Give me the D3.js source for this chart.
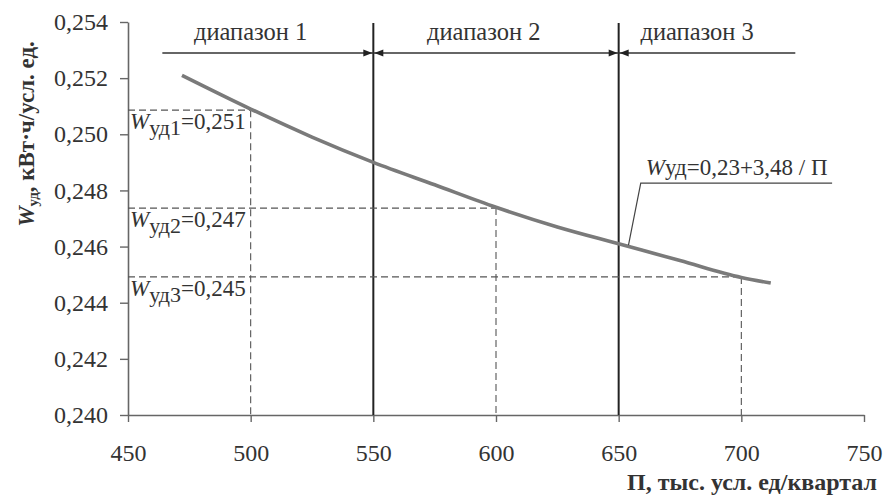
<!DOCTYPE html>
<html><head><meta charset="utf-8">
<script src="https://cdn.jsdelivr.net/npm/d3@7"></script>
<style>
html,body{margin:0;padding:0;background:#fff;}
svg{display:block;}
svg text{font-family:"Liberation Serif","Times New Roman",Tinos,serif !important;}
</style></head>
<body>
<svg id="chart" width="885" height="498"></svg>
<script>
// ---- data ----
const xTicks = [450, 500, 550, 600, 650, 700, 750];
const yTicks = [0.240, 0.242, 0.244, 0.246, 0.248, 0.250, 0.252, 0.254];
const curveP = [472, 500, 525, 550, 575, 600, 625, 650, 675, 700, 712];
const curveW = [0.2521, 0.2509, 0.2499, 0.2490, 0.2482, 0.2474, 0.2467, 0.2461, 0.2455, 0.2449, 0.2447];
const rangeNames = ["диапазон 1", "диапазон 2", "диапазон 3"];
const rangeStart = [464, 550, 650];
const rangeEnd = [550, 650, 722];
const rangeLabelP = [500, 595, 682];
const arrowAtStart = [false, true, true];
const arrowAtEnd = [true, true, false];
const boundaries = [550, 650];
const refP = [500, 600, 700];
const refW = [0.25086, 0.24737, 0.24492];
const refIdx = ["1", "2", "3"];
const refText = ["=0,251", "=0,247", "=0,245"];
const formulaText = "=0,23+3,48 / П";
const formulaPoint = [654, 0.24605];
const formulaAnchor = [659, 0.24826];
const formulaEnd = 737;
const xTitle = "П, тыс. усл. ед/квартал";
const yTitleRest = ", кВт·ч/усл. ед.";

// ---- scales ----
const svg = d3.select("#chart");
const x = d3.scaleLinear().domain([450, 750]).range([128, 864]);
const y = d3.scaleLinear().domain([0.240, 0.254]).range([415, 22]);
const txt = "#333";
const fmt = v => d3.format(".3f")(v).replace(".", ",");

// ---- axes ----
const gx = svg.append("g").attr("transform", `translate(0,${y(0.240)})`)
  .call(d3.axisBottom(x).tickValues(xTicks).tickSize(7).tickPadding(22).tickSizeOuter(0).tickFormat(d3.format("d")));
const gy = svg.append("g").attr("transform", `translate(${x(450)},0)`)
  .call(d3.axisLeft(y).tickValues(yTicks).tickSize(8).tickPadding(12).tickSizeOuter(0).tickFormat(fmt));
[gx, gy].forEach(g => {
  g.attr("font-family", null);
  g.select(".domain").attr("stroke", "#666").attr("stroke-width", 1.6);
  g.selectAll(".tick line").attr("stroke", "#666").attr("stroke-width", 1.4);
  g.selectAll(".tick text").attr("fill", txt).style("font-size", "24px");
});

// ---- boundary lines ----
svg.selectAll(".bnd").data(boundaries).enter().append("line")
  .attr("x1", d => x(d)).attr("x2", d => x(d))
  .attr("y1", y(0.254) + 1).attr("y2", y(0.240))
  .attr("stroke", "#222").attr("stroke-width", 2);

// ---- dashed reference lines ----
const ref = svg.append("g");
refP.forEach((p, i) => {
  ref.append("line").attr("x1", x(450)).attr("x2", x(p)).attr("y1", y(refW[i])).attr("y2", y(refW[i]))
    .attr("stroke", "#555").attr("stroke-width", 1.3).attr("stroke-dasharray", "7,4");
  ref.append("line").attr("x1", x(p)).attr("x2", x(p)).attr("y1", y(refW[i])).attr("y2", y(0.240))
    .attr("stroke", "#555").attr("stroke-width", 1.1).attr("stroke-dasharray", "7,4");
  const t = ref.append("text").attr("x", x(450) + 2).attr("y", y(refW[i]) + 19)
    .attr("fill", txt).style("font-size", "23px");
  t.append("tspan").text("W").style("font-style", "italic");
  t.append("tspan").text("уд" + refIdx[i]).attr("dy", 6).style("font-size", "22px");
  t.append("tspan").text(refText[i]).attr("dy", -6);
});

// ---- curve ----
const pts = curveP.map((p, i) => [p, curveW[i]]);
svg.append("path").datum(pts)
  .attr("d", d3.line().x(d => x(d[0])).y(d => y(d[1])).curve(d3.curveMonotoneX))
  .attr("fill", "none").attr("stroke", "#7a7a7a").attr("stroke-width", 3.6).attr("stroke-linecap", "butt");

// ---- range arrows ----
const ay = 53;
const rg = svg.append("g");
rangeNames.forEach((n, i) => {
  const x0 = x(rangeStart[i]), x1 = x(rangeEnd[i]);
  rg.append("line").attr("x1", x0).attr("x2", x1).attr("y1", ay).attr("y2", ay)
    .attr("stroke", "#333").attr("stroke-width", 1.3);
  if (arrowAtStart[i]) rg.append("path")
    .attr("d", `M${x0 + 1},${ay} L${x0 + 10},${ay - 3.5} L${x0 + 10},${ay + 3.5} Z`).attr("fill", "#222");
  if (arrowAtEnd[i]) rg.append("path")
    .attr("d", `M${x1 - 1},${ay} L${x1 - 10},${ay - 3.5} L${x1 - 10},${ay + 3.5} Z`).attr("fill", "#222");
  rg.append("text").attr("x", x(rangeLabelP[i])).attr("y", 40).attr("text-anchor", "middle")
    .attr("fill", txt).style("font-size", "24.5px").text(n);
});

// ---- formula annotation ----
const fa = svg.append("g");
fa.append("path")
  .attr("d", `M${x(formulaPoint[0])},${y(formulaPoint[1])} L${x(formulaAnchor[0])},${y(formulaAnchor[1])} L${x(formulaEnd)},${y(formulaAnchor[1])}`)
  .attr("fill", "none").attr("stroke", "#444").attr("stroke-width", 1.2);
const ft = fa.append("text").attr("x", x(formulaAnchor[0]) + 5).attr("y", y(formulaAnchor[1]) - 8)
  .attr("fill", txt).style("font-size", "23px");
ft.append("tspan").text("W").style("font-style", "italic");
ft.append("tspan").text("уд" + formulaText);

// ---- axis titles ----
svg.append("text").attr("x", 877).attr("y", 490).attr("text-anchor", "end")
  .attr("fill", txt).style("font-size", "24px").style("font-weight", "bold").text(xTitle);
const yt = svg.append("text").attr("transform", "translate(34,134) rotate(-90)").attr("text-anchor", "middle")
  .attr("fill", txt).style("font-size", "23px").style("font-weight", "bold");
yt.append("tspan").text("W").style("font-style", "italic");
yt.append("tspan").text("уд").attr("dy", 4).style("font-size", "15px");
yt.append("tspan").text(yTitleRest).attr("dy", -4);
</script>
</body></html>
